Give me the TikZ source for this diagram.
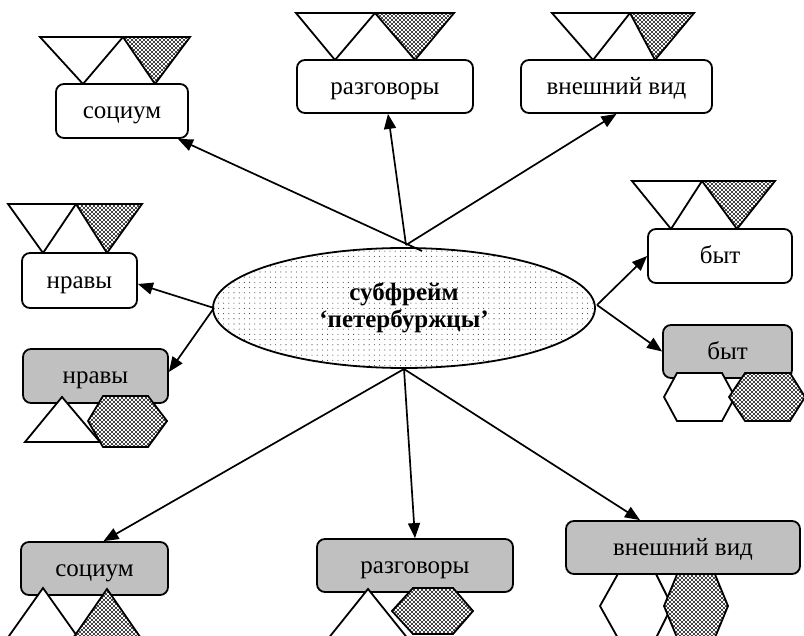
\documentclass[tikz,border=0pt]{standalone}
\usepackage{fontspec}
\setmainfont{Liberation Serif}
\usetikzlibrary{shapes.geometric,arrows.meta,patterns.meta}

\definecolor{boxgray}{RGB}{192,192,192}

% dense black dots for the marked shapes
\tikzdeclarepattern{
  name=densedots, type=uncolored,
  bounding box={(-1.3pt,-1.3pt) and (3.4pt,3.4pt)},
  tile size={(4pt,4pt)},
  code={\fill (0pt,0pt) circle (1.15pt); \fill (2pt,2pt) circle (1.15pt);}
}
% sparse fine dots for the central ellipse
\tikzdeclarepattern{
  name=finedots, type=uncolored,
  bounding box={(-0.7pt,-0.7pt) and (0.7pt,0.7pt)},
  tile size={(5.2pt,5.2pt)},
  code={\fill (0pt,0pt) circle (0.55pt);}
}

\tikzset{
  tagbox/.style={draw, line width=1.8pt, rounded corners=8pt, inner sep=0pt,
    text height=16pt, text depth=0pt, font=\fontsize{25}{28}\selectfont},
  whitebox/.style={tagbox, fill=white},
  greybox/.style={tagbox, fill=boxgray},
  link/.style={line width=1.7pt, -{Triangle[length=15pt,width=12pt]}},
  openshape/.style={draw, line width=1.8pt, fill=white},
  dotshape/.style={draw, line width=1.8pt, preaction={fill=white},
    pattern=densedots, pattern color=black},
}

\begin{document}
\begin{tikzpicture}[x=1pt,y=-1pt]
\useasboundingbox (0,0) rectangle (804,636);
\clip (0,0) rectangle (804,636);

% ---- markers above the upper boxes ----
\draw[openshape] (40,37) -- (123,37) -- (83,84) -- cycle;
\draw[dotshape]  (123,37) -- (190,37) -- (155,84) -- cycle;
\draw[openshape] (296,13) -- (375,13) -- (335,60) -- cycle;
\draw[dotshape]  (375,13) -- (454,13) -- (415,60) -- cycle;
\draw[openshape] (552,13) -- (630,13) -- (593,60) -- cycle;
\draw[dotshape]  (630,13) -- (694,13) -- (655,60) -- cycle;
\draw[openshape] (8,204) -- (76,204) -- (43,253) -- cycle;
\draw[dotshape]  (76,204) -- (142,204) -- (107,253) -- cycle;
\draw[openshape] (632,181) -- (702,181) -- (671,229) -- cycle;
\draw[dotshape]  (702,181) -- (775,181) -- (737,229) -- cycle;

% ---- hexagons behind the lower right box ----
\draw[openshape] (600,606) -- (619,572) -- (655,572) -- (672,606) -- (655,640) -- (619,640) -- cycle;
\draw[dotshape]  (664,606) -- (678,572) -- (714,572) -- (728,606) -- (714,640) -- (678,640) -- cycle;

% ---- boxes ----
\node[whitebox, minimum width=132pt, minimum height=54pt] (soc1) at (122,111) {социум};
\node[whitebox, minimum width=176pt, minimum height=53pt] (raz1) at (385,86.5) {разговоры};
\node[whitebox, minimum width=191pt, minimum height=53pt] (vv1) at (616.5,86.5) {внешний вид};
\node[whitebox, minimum width=115pt, minimum height=55pt] (nr1) at (79.5,280.5) {нравы};
\node[whitebox, minimum width=144pt, minimum height=54pt] (byt1) at (720,256) {быт};
\node[greybox, minimum width=145pt, minimum height=54pt] (nr2) at (95.5,376) {нравы};
\node[greybox, minimum width=129pt, minimum height=53pt] (byt2) at (727.5,351.5) {быт};
\node[greybox, minimum width=147pt, minimum height=53pt] (soc2) at (94.5,568.5) {социум};
\node[greybox, minimum width=196pt, minimum height=53pt] (raz2) at (415,565.5) {разговоры};
\node[greybox, minimum width=234pt, minimum height=53pt] (vv2) at (683,547.5) {внешний вид};

% ---- markers below the grey boxes ----
\draw[openshape] (62,397) -- (100,442) -- (25,442) -- cycle;
\draw[dotshape]  (88,421) -- (103,396) -- (148,396) -- (167,421) -- (148,447) -- (103,447) -- cycle;
\draw[openshape] (664,397) -- (677,373) -- (722,373) -- (735,397) -- (722,421) -- (677,421) -- cycle;
\draw[dotshape]  (729,397) -- (745,373) -- (790,373) -- (805,397) -- (790,421) -- (745,421) -- cycle;
\draw[openshape] (43,588) -- (94,660) -- (-8,660) -- cycle;
\draw[dotshape]  (107,589) -- (156,660) -- (58,660) -- cycle;
\draw[openshape] (368,589) -- (425,660) -- (311,660) -- cycle;
\draw[dotshape]  (392,611) -- (413,588) -- (453,588) -- (473,611) -- (453,634) -- (413,634) -- cycle;

% ---- central frame ----
\node[draw, ellipse, line width=1.8pt, minimum width=382pt, minimum height=120pt,
  inner sep=0pt, preaction={fill=white}, pattern=finedots, pattern color=black!75,
  font=\bfseries\fontsize{25}{27}\selectfont, align=center] (hub) at (404,308)
  {субфрейм\\‘петербуржцы’};

\coordinate (hubN)  at (406,245);
\coordinate (hubNW) at (422,251);
\coordinate (hubW)  at (214,308);
\coordinate (hubE)  at (597,305);
\coordinate (hubS)  at (404,369);

% ---- connectors ----
\draw[link] (hubNW) -- ([xshift=-11pt]soc1.south east);
\draw[link] (hubN) -- ([xshift=3pt]raz1.south);
\draw[link] (hubN) -- (vv1.south);
\draw[link] (hubW) -- ([yshift=-3.5pt]nr1.east);
\draw[link] (hubW) -- ([yshift=4pt]nr2.east);
\draw[link] (hubE) -- (byt1.west);
\draw[link] (hubE) -- (byt2.west);
\draw[link] (hubS) -- ([xshift=9pt]soc2.north);
\draw[link] (hubS) -- (raz2.north);
\draw[link] (hubS) -- ([xshift=-43pt]vv2.north);
\end{tikzpicture}
\end{document}
